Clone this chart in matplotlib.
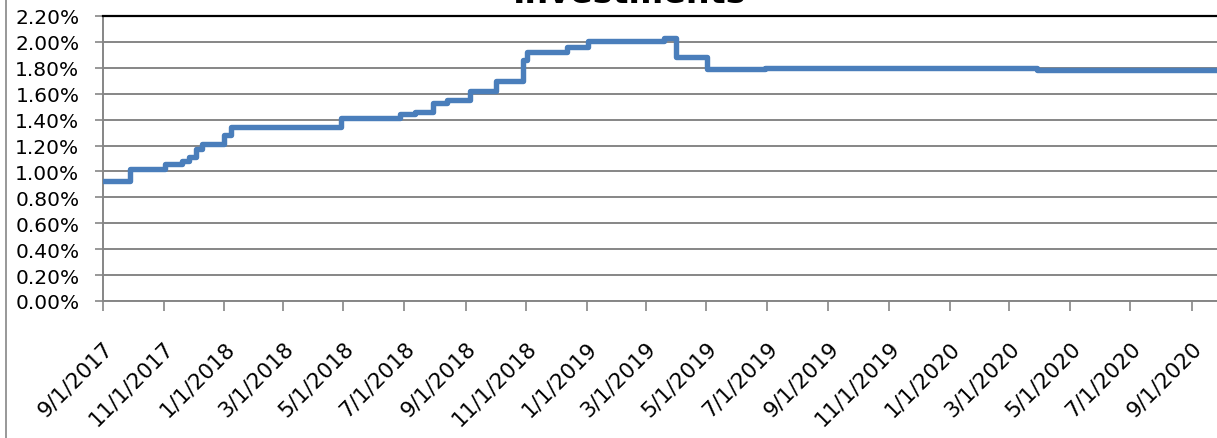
import matplotlib
matplotlib.use("Agg")
import matplotlib.pyplot as plt
import matplotlib.dates as mdates
from matplotlib.ticker import FuncFormatter, MultipleLocator
from matplotlib.lines import Line2D
import pandas as pd

# Rate changes (date the rate took effect, rate in %)
change_dates = [
    "2017-09-01", "2017-09-28", "2017-11-02", "2017-11-20", "2017-11-27",
    "2017-12-04", "2017-12-10", "2018-01-01", "2018-01-08", "2018-04-29",
    "2018-06-27", "2018-07-12", "2018-07-30", "2018-08-13", "2018-09-05",
    "2018-10-02", "2018-10-29", "2018-11-02", "2018-12-12", "2019-01-02",
    "2019-03-20", "2019-04-01", "2019-05-02", "2019-06-29", "2019-10-30",
    "2020-03-29", "2020-10-25",
]
rates = [
    0.93, 1.02, 1.06, 1.08, 1.11,
    1.17, 1.21, 1.28, 1.34, 1.41,
    1.44, 1.46, 1.53, 1.55, 1.62,
    1.70, 1.86, 1.92, 1.96, 2.01,
    2.03, 1.88, 1.79, 1.795, 1.80,
    1.785, 1.785,
]
title = "Investments"
x_start = "2017-09-01"
x_end = "2020-10-25"
y_max = 2.2
y_step = 0.2

W, H = 1217, 439
fig = plt.figure(figsize=(W / 100, H / 100), dpi=100)
plt.rcParams["font.family"] = ["DejaVu Sans"]

# plot area in pixel terms: left edge 103, top 17, bottom 302, ~0.9936 px/day
left_px, top_px, bottom_px = 103, 17, 302
days = (pd.Timestamp(x_end) - pd.Timestamp(x_start)).days
width_px = days * 0.9936
ax = fig.add_axes([left_px / W, (H - bottom_px) / H, width_px / W, (bottom_px - top_px) / H])

dates = pd.to_datetime(change_dates)
ax.step(dates, rates, where="post", color="#4A7EBB", lw=3.9,
        solid_joinstyle="round", solid_capstyle="round", zorder=3)

ax.set_xlim(pd.Timestamp(x_start), pd.Timestamp(x_end))
ax.set_ylim(0, y_max)
ax.yaxis.set_major_locator(MultipleLocator(y_step))
ax.yaxis.set_major_formatter(FuncFormatter(lambda v, p: f"{v:.2f}%"))
ax.xaxis.set_major_locator(mdates.MonthLocator(bymonth=[1, 3, 5, 7, 9, 11]))
ax.xaxis.set_major_formatter(FuncFormatter(
    lambda v, p: (lambda d: f"{d.month}/{d.day}/{d.year}")(mdates.num2date(v))))

grid_col = "#868686"
ax.grid(axis="y", color=grid_col, lw=1.4, zorder=1)
ax.set_axisbelow(True)
ax.spines["right"].set_visible(False)
ax.spines["top"].set_color("black")
ax.spines["top"].set_linewidth(1.6)
for side in ("left", "bottom"):
    ax.spines[side].set_color(grid_col)
    ax.spines[side].set_linewidth(1.4)

ax.tick_params(axis="y", direction="out", length=6, width=1.2, color=grid_col,
               labelsize=14.5, pad=11, labelcolor="black")
ax.tick_params(axis="x", direction="out", length=7, width=1.2, color=grid_col,
               labelsize=15.5, pad=19, labelcolor="black")
for lbl in ax.get_xticklabels():
    lbl.set_rotation(45)
    lbl.set_rotation_mode("anchor")
    lbl.set_ha("right")
    lbl.set_va("top")

# chart-area border on the left
fig.add_artist(Line2D([5.5 / W, 5.5 / W], [0, 1], color=grid_col, lw=1.2,
                      transform=fig.transFigure))

fig.text(630 / W, 1 - 3 / H, title, ha="center", va="baseline",
         fontsize=24, fontweight="bold")

fig.savefig("out.png", dpi=100)
